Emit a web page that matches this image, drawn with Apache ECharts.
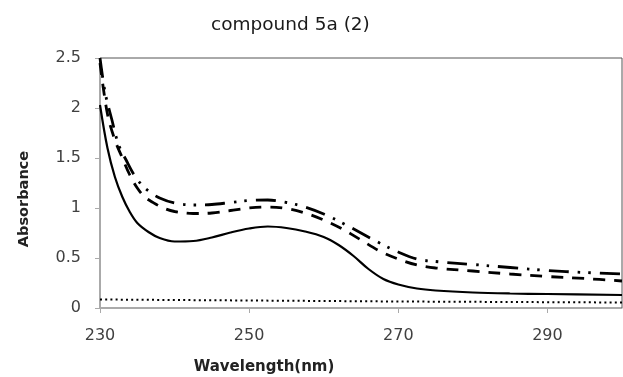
<!DOCTYPE html>
<html>
<head>
<meta charset="utf-8">
<script src="https://cdn.jsdelivr.net/npm/echarts@6/dist/echarts.min.js"></script>
<style>html,body{margin:0;padding:0;background:#fff}#c{width:623px;height:377px}</style>
</head>
<body>
<div id="c"></div>
<script>
const chartTitle = "compound 5a (2)";
const xName = "Wavelength(nm)";
const yName = "Absorbance";
const xTicks = [230, 250, 270, 290];

const solidX = [230,231,232,233,234,235,236.5,238,240,242.5,245,247.5,250,252.5,255,257.5,260,262,264,266,268,270,272.5,275,280,285,290,300];
const solidY = [2.03,1.60,1.31,1.11,0.96,0.85,0.76,0.70,0.665,0.67,0.705,0.755,0.795,0.815,0.80,0.765,0.71,0.63,0.52,0.39,0.29,0.235,0.195,0.175,0.155,0.145,0.14,0.13];

const dashX = [230,231,232,233,234,235,236,237,238.5,240,242.5,245,247.5,250,252.5,255,257.5,260,262.5,265,267.5,270,272.5,275,280,285,290,295,300];
const dashY = [2.45,1.94,1.68,1.50,1.33,1.20,1.11,1.06,1.00,0.965,0.945,0.95,0.975,1.0,1.01,0.995,0.95,0.88,0.79,0.68,0.57,0.49,0.43,0.40,0.37,0.34,0.315,0.295,0.27];

const dashDotX = [230,230.7,231.6,232.5,233.5,234.5,235.5,236.5,238,240,242.5,245,247.5,250,252.5,255,257.5,260,262.5,265,267.5,270,272.5,275,280,285,290,295,300];
const dashDotY = [2.5,2.15,1.88,1.63,1.48,1.34,1.24,1.17,1.10,1.05,1.03,1.035,1.055,1.075,1.08,1.055,1.01,0.94,0.85,0.75,0.65,0.56,0.49,0.465,0.435,0.405,0.375,0.355,0.34];

const dotX = [230,250,270,300];
const dotY = [0.085,0.075,0.065,0.055];

const pairs = (xs, ys) => xs.map((x, i) => [x, ys[i]]);
const txt = '#404040';
const font = 'DejaVu Sans';

const chart = echarts.init(document.getElementById('c'), null, {renderer: 'canvas'});
const baseLine = {type: 'line', symbol: 'none', smooth: 0.35, silent: true, animation: false};
chart.setOption({
  animation: false,
  title: {text: chartTitle, left: 206, top: 11, textStyle: {fontFamily: font, fontSize: 18.5, fontWeight: 'normal', color: '#1a1a1a'}},
  grid: {left: 100, right: 1, top: 58, bottom: 69, containLabel: false, outerBoundsMode: 'none', show: true, borderColor: '#555', borderWidth: 1},
  xAxis: {
    type: 'value', min: 230, max: 300,
    name: xName, nameLocation: 'middle', nameGap: 52,
    nameTextStyle: {fontFamily: font, fontSize: 15, fontWeight: 'bold', color: '#222', padding: [0, 194, 0, 0]},
    axisLine: {lineStyle: {color: '#aaa', width: 1}},
    axisTick: {show: true, length: 5, lineStyle: {color: '#aaa'}, customValues: xTicks},
    axisLabel: {customValues: xTicks, fontFamily: font, fontSize: 16, color: txt, margin: 20},
    splitLine: {show: false}
  },
  yAxis: {
    type: 'value', min: 0, max: 2.5, interval: 0.5,
    name: yName, nameLocation: 'middle', nameGap: 68,
    nameTextStyle: {fontFamily: font, fontSize: 14.5, fontWeight: 'bold', color: '#222', padding: [0, 32, 0, 0]},
    axisLine: {show: true, lineStyle: {color: '#aaa', width: 1}},
    axisTick: {show: true, length: 5, lineStyle: {color: '#aaa'}},
    axisLabel: {fontFamily: font, fontSize: 16, color: txt, margin: 19},
    splitLine: {show: false}
  },
  series: [
    Object.assign({}, baseLine, {name: 'solid', data: pairs(solidX, solidY), lineStyle: {color: '#000', width: 2.2, type: 'solid'}}),
    Object.assign({}, baseLine, {name: 'dash', data: pairs(dashX, dashY), lineStyle: {color: '#000', width: 2.8, type: [12, 9]}}),
    Object.assign({}, baseLine, {name: 'dashdot', data: pairs(dashDotX, dashDotY), lineStyle: {color: '#000', width: 2.8, type: [20, 9, 2.5, 8, 2.5, 9]}}),
    Object.assign({}, baseLine, {name: 'dot', smooth: false, data: pairs(dotX, dotY), lineStyle: {color: '#000', width: 2, type: [2, 3.2]}})
  ]
});
</script>
</body>
</html>
